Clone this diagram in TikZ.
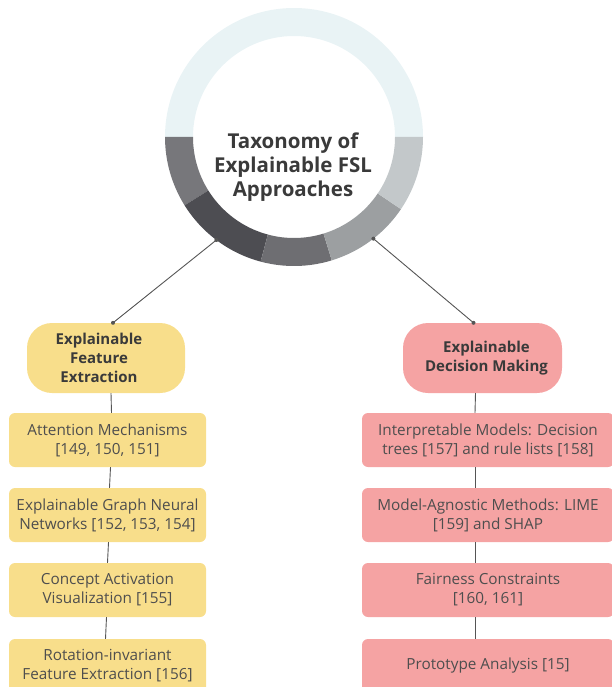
\documentclass[tikz,border=0pt]{standalone}
\usepackage{fontspec}
\setmainfont{Open Sans}
\usetikzlibrary{calc}
\definecolor{ringtop}{HTML}{E9F3F5}
\definecolor{segA}{HTML}{77777B}
\definecolor{segB}{HTML}{4D4D52}
\definecolor{segC}{HTML}{6E6E72}
\definecolor{segD}{HTML}{9C9FA1}
\definecolor{segE}{HTML}{C3C8CA}
\definecolor{yel}{HTML}{F8DE8B}
\definecolor{pnk}{HTML}{F5A3A3}
\definecolor{txt}{HTML}{4E4E4E}
\definecolor{hdtxt}{HTML}{3A3A3A}
\definecolor{ln}{HTML}{555555}
\newcommand{\annseg}[3]{% color, a1, a2
  \fill[#1] ($(ctr)+(#2:129)$) arc[start angle=#2,end angle=#3,radius=129]
    -- ($(ctr)+(#3:101)$) arc[start angle=#3,end angle=#2,radius=101] -- cycle;}
\begin{document}
\begin{tikzpicture}[x=1pt,y=1pt,
  hdr/.style={rounded corners=25pt,minimum height=70pt,inner sep=2pt,align=center,
     text=hdtxt,font=\fontsize{15}{19}\selectfont\bfseries},
  itm/.style={rounded corners=6pt,minimum height=54pt,inner sep=2pt,align=center,
     text=txt,font=\fontsize{15.3}{19}\selectfont},
  conn/.style={draw=ln,line width=0.9pt},
  dot/.style={fill=ln}]
\useasboundingbox (0,0) rectangle (611,-687);
\coordinate (ctr) at (294,-137);
\annseg{ringtop}{0}{180}
\annseg{segA}{180}{212}
\annseg{segB}{212}{255}
\annseg{segC}{255}{287}
\annseg{segD}{287}{326}
\annseg{segE}{326}{360}
\node[text=hdtxt,font=\fontsize{20.5}{24}\selectfont\bfseries,align=center] (title) at (293,-167)
  {Taxonomy of\\Explainable FSL\\Approaches};
% headers
\node[hdr,fill=yel,minimum width=158pt] (hL) at (106,-358) {\hspace*{-14pt}Explainable\\\hspace*{-14pt}Feature\\\hspace*{-14pt}Extraction};
\node[hdr,fill=pnk,minimum width=159pt] (hR) at (482.5,-358) {\hspace*{8pt}Explainable\\\hspace*{8pt}Decision Making};
% left items
\node[itm,fill=yel,minimum width=197pt] (L1) at (107.5,-440) {Attention Mechanisms\\{}[149, 150, 151]};
\node[itm,fill=yel,minimum width=197pt] (L2) at (107.5,-515) {Explainable Graph Neural\\Networks [152, 153, 154]};
\node[itm,fill=yel,minimum width=197pt] (L3) at (107.5,-590) {Concept Activation\\Visualization [155]};
\node[itm,fill=yel,minimum width=197pt] (L4) at (107.5,-666) {Rotation-invariant\\Feature Extraction [156]};
% right items
\node[itm,fill=pnk,minimum width=252pt] (R1) at (488,-440) {Interpretable Models: Decision\\trees [157] and rule lists [158]};
\node[itm,fill=pnk,minimum width=252pt] (R2) at (488,-515) {Model-Agnostic Methods: LIME\\{}[159] and SHAP};
\node[itm,fill=pnk,minimum width=252pt] (R3) at (488,-590) {Fairness Constraints\\{}[160, 161]};
\node[itm,fill=pnk,minimum width=252pt] (R4) at (488,-666) {Prototype Analysis [15]};
% connectors from ring
\coordinate (dL) at ($(ctr)+(233:129)$);
\coordinate (dR) at ($(ctr)+(308:129)$);
\coordinate (tL) at ([xshift=7pt]hL.north);
\coordinate (tR) at ([xshift=-9pt]hR.north);
\draw[conn] (dL) -- (tL);
\draw[conn] (dR) -- (tR);
\fill[dot] (dL) circle (2pt);
\fill[dot] (dR) circle (2pt);
\fill[dot] (tL) circle (2pt);
\fill[dot] (tR) circle (2pt);
% vertical chains
\draw[conn] ([xshift=5pt]hL.south) -- ([xshift=4pt]L1.north);
\draw[conn] ([xshift=3pt]L1.south) -- ([xshift=2pt]L2.north);
\draw[conn] ([xshift=1pt]L2.south) -- ([xshift=0pt]L3.north);
\draw[conn] ([xshift=-1pt]L3.south) -- ([xshift=-2pt]L4.north);
\draw[conn] ([xshift=-7pt]hR.south) -- ([xshift=-13pt]R1.north);
\draw[conn] ([xshift=-13pt]R1.south) -- ([xshift=-13pt]R2.north);
\draw[conn] ([xshift=-13pt]R2.south) -- ([xshift=-13pt]R3.north);
\draw[conn] ([xshift=-13pt]R3.south) -- ([xshift=-13pt]R4.north);
\end{tikzpicture}
\end{document}
